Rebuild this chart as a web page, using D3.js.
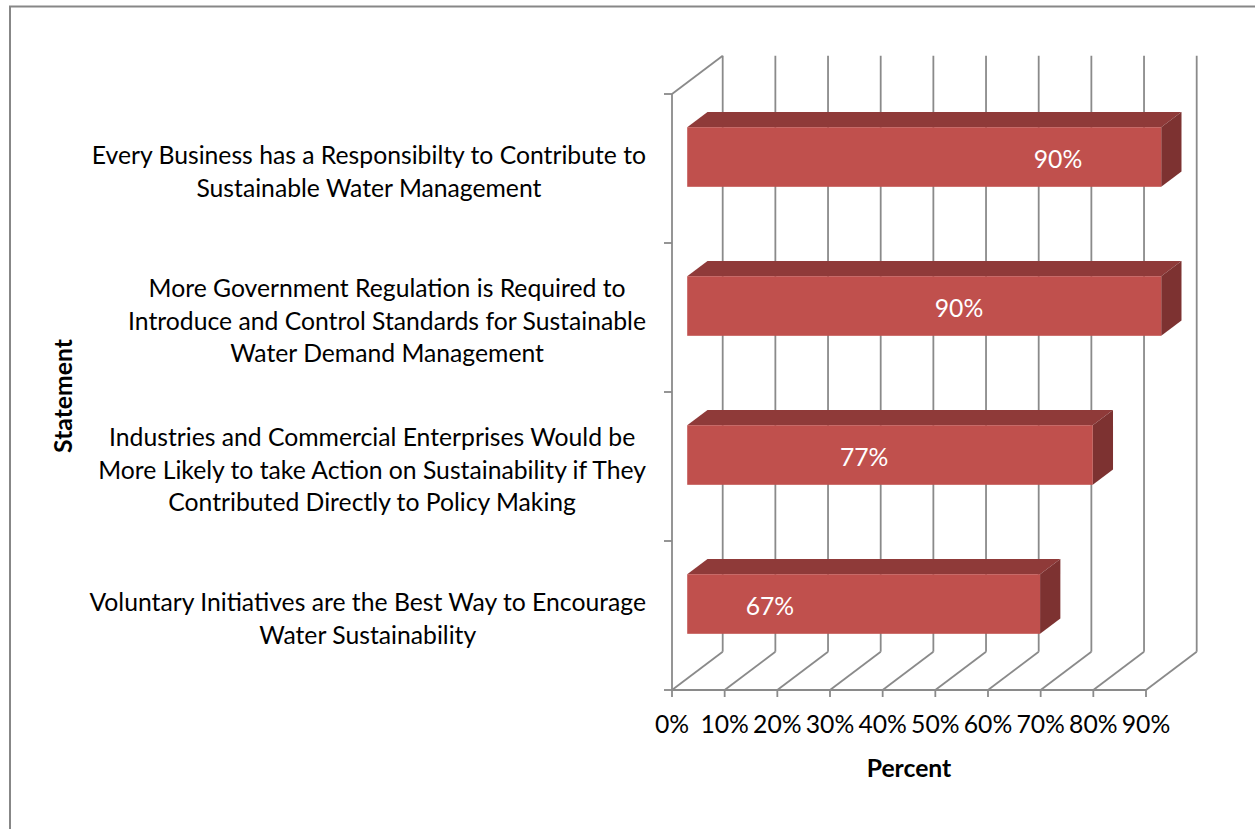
<!DOCTYPE html>
<html><head><meta charset="utf-8">
<script src="https://cdn.jsdelivr.net/npm/d3@7"></script>
<style>html,body{margin:0;padding:0;background:#fff;}svg{display:block;}</style>
</head><body>
<svg id="c" width="1255" height="829"></svg>
<script>
const categories = [
  ["Every Business has a Responsibilty to Contribute to","Sustainable Water Management"],
  ["More Government Regulation is Required to","Introduce and Control Standards for Sustainable","Water Demand Management"],
  ["Industries and Commercial Enterprises Would be","More Likely to take Action on Sustainability if They","Contributed Directly to Policy Making"],
  ["Voluntary Initiatives are the Best Way to Encourage","Water Sustainability"]
];
const values = [0.90, 0.90, 0.77, 0.67];
const valueLabels = ["90%", "90%", "77%", "67%"];
const labelAt = [0.704, 0.516, 0.336, 0.157];
const ticks = [0,0.1,0.2,0.3,0.4,0.5,0.6,0.7,0.8,0.9];
const tickLabels = ["0%","10%","20%","30%","40%","50%","60%","70%","80%","90%"];
const xTitle = "Percent", yTitle = "Statement";

const svg = d3.select("#c");
const FONT = "Lato, 'Open Sans', sans-serif";
const grid = "#8a8a8a";
const dx = 50.7, dy = -38.3;           // depth vector
const zf = 0.3, zb = 0.7;              // bar depth span
const x = d3.scaleLinear().domain([0, 0.9]).range([672, 1146]);
const ids = categories.map((d,i)=>i);
const y = d3.scaleBand().domain(ids).range([94, 690]).paddingInner(0.6).paddingOuter(0.3);
const yTop = 94, yBot = 690;

// font fit
const probe = svg.append("text").attr("font-family", FONT).attr("font-size", 20).text(categories[3][0]);
const fs = 20 * 557 / probe.node().getComputedTextLength();
probe.remove();

// border
svg.append("line").attr("x1",9).attr("x2",1255).attr("y1",6.5).attr("y2",6.5).attr("stroke","#878787").attr("stroke-width",2);
svg.append("line").attr("x1",10).attr("x2",10).attr("y1",6).attr("y2",829).attr("stroke","#878787").attr("stroke-width",2);

const g = svg.append("g").attr("fill","none").attr("stroke",grid).attr("stroke-width",1.8);
// back wall gridlines
ticks.forEach(t => {
  g.append("line").attr("x1", x(t)+dx).attr("x2", x(t)+dx).attr("y1", yTop+dy).attr("y2", yBot+dy);
  g.append("line").attr("x1", x(t)).attr("y1", yBot).attr("x2", x(t)+dx).attr("y2", yBot+dy);
  g.append("line").attr("x1", x(t)).attr("x2", x(t)).attr("y1", yBot).attr("y2", yBot+7);
});
// left wall
g.append("line").attr("x1", x(0)).attr("x2", x(0)).attr("y1", yTop).attr("y2", yBot);
g.append("line").attr("x1", x(0)).attr("y1", yTop).attr("x2", x(0)+dx).attr("y2", yTop+dy);
// front baseline
g.append("line").attr("x1", x(0)).attr("x2", x(0.9)).attr("y1", yBot).attr("y2", yBot);
// left ticks at category boundaries
const step = y.step();
for (let k = 0; k <= categories.length; k++) {
  const yy = yTop + k*step;
  g.append("line").attr("x1", x(0)-8).attr("x2", x(0)).attr("y1", yy).attr("y2", yy);
}

// bars
const bw = y.bandwidth();
const ox = zf*dx, oy = zf*dy, ddx = (zb-zf)*dx, ddy = (zb-zf)*dy;
const bars = svg.append("g");
values.forEach((v,i) => {
  const x0 = x(0)+ox, x1 = x(v)+ox, yb = y(i)+oy;
  bars.append("polygon").attr("fill","#8f3a39")
    .attr("points", [[x0,yb],[x1,yb],[x1+ddx,yb+ddy],[x0+ddx,yb+ddy]].join(" "));
  bars.append("polygon").attr("fill","#7d3231")
    .attr("points", [[x1,yb],[x1+ddx,yb+ddy],[x1+ddx,yb+bw+ddy],[x1,yb+bw]].join(" "));
  bars.append("rect").attr("x",x0).attr("y",yb).attr("width",x1-x0).attr("height",bw).attr("fill","#c0504d");
  bars.append("text").attr("x", x(labelAt[i])+ox).attr("y", yb+bw/2+fs*0.45)
    .attr("text-anchor","middle").attr("fill","#fff").attr("font-family",FONT).attr("font-size",fs)
    .text(valueLabels[i]);
});

// category labels
const capH = fs*0.7, L = 32.5;
categories.forEach((lines,i) => {
  const grp = svg.append("g").attr("font-family",FONT).attr("font-size",fs).attr("fill","#000");
  const ts = lines.map(s => grp.append("text").attr("text-anchor","middle").text(s));
  const maxW = d3.max(ts, t => t.node().getComputedTextLength());
  const cx = 646 - maxW/2;
  const c = yTop + (i+0.5)*step + 3.5;
  ts.forEach((t,k) => t.attr("x", cx).attr("y", c + (k-(lines.length-1)/2)*L + capH/2));
});

// tick labels
svg.append("g").attr("font-family",FONT).attr("font-size",fs).attr("fill","#000")
  .selectAll("text").data(ticks).join("text")
  .attr("x", d=>x(d)).attr("y", 733).attr("text-anchor","middle").text((d,i)=>tickLabels[i]);

// axis titles
svg.append("text").attr("x",909).attr("y",777).attr("text-anchor","middle").attr("font-family",FONT)
  .attr("font-weight","bold").attr("font-size",fs).text(xTitle);
svg.append("text").attr("transform","translate(72,396) rotate(-90)").attr("text-anchor","middle").attr("font-family",FONT)
  .attr("font-weight","bold").attr("font-size",fs).text(yTitle);
</script>
</body></html>
